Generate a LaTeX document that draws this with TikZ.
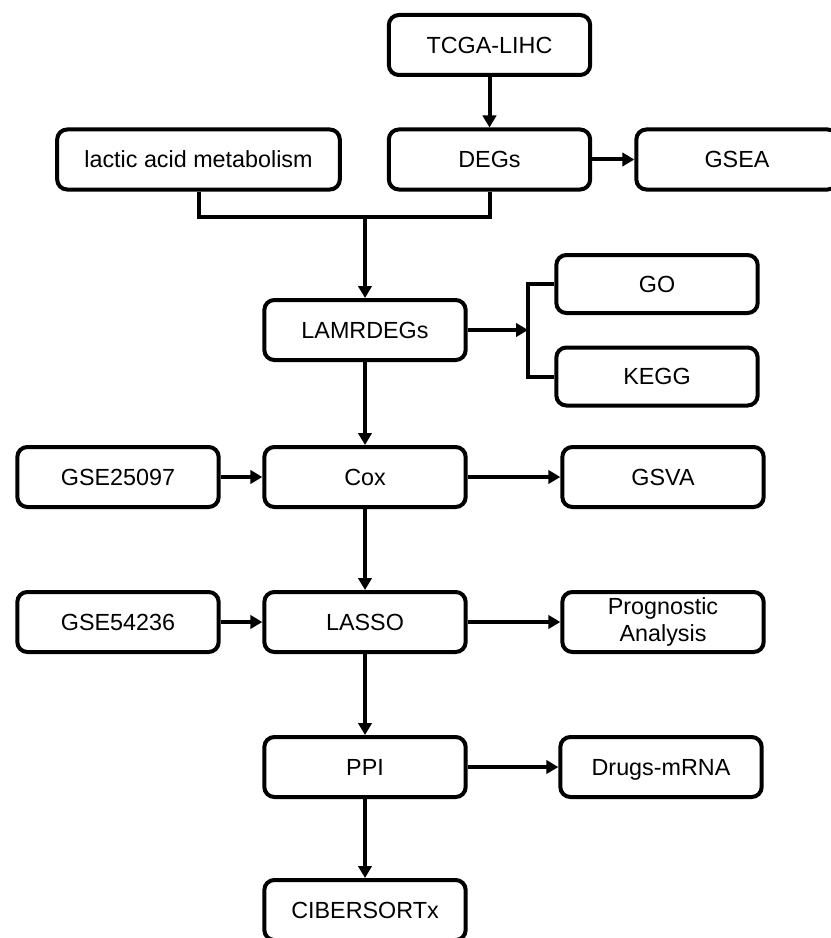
\documentclass[tikz,border=0pt]{standalone}
\usepackage{fontspec}
\setmainfont{Liberation Sans}
\usetikzlibrary{arrows.meta}

\begin{document}
\begin{tikzpicture}[x=0.75pt,y=0.75pt,yscale=-1,xscale=1,
  box/.style={draw,line width=3pt,rounded corners=7.5pt,minimum width=151pt,minimum height=45pt,inner sep=0pt,align=center,text height=12.5pt,text depth=0pt,font=\fontsize{17.5}{20}\selectfont},
  flow/.style={line width=3pt,-{Triangle[length=9pt,width=10pt]}},
  link/.style={line width=3pt}]
%set diagram frame
\clip (0,0) rectangle (831,938);

%Shape: Rounded Rect
\node [box] (tcga) at (489.5,45) {TCGA-LIHC};
\node [box] (degs) at (489.5,159.5) {DEGs};
\node [box] (gsea) at (737,159.5) {GSEA};
\node [box,minimum width=212pt] (lactic) at (198.5,159.5) {lactic acid metabolism};
\node [box] (lamr) at (365,330) {LAMRDEGs};
\node [box,minimum height=43.5pt] (go) at (657,284) {GO};
\node [box,minimum height=43.5pt] (kegg) at (657,376.5) {KEGG};
\node [box] (gse1) at (118,477) {GSE25097};
\node [box] (cox) at (365,477) {Cox};
\node [box] (gsva) at (663,477) {GSVA};
\node [box] (gse2) at (118,622) {GSE54236};
\node [box] (lasso) at (365,622) {LASSO};
\node [box,text height=,text depth=] (prog) at (663,622) {Prognostic\\Analysis};
\node [box] (ppi) at (365,767) {PPI};
\node [box] (drugs) at (661,767) {Drugs-mRNA};
\node [box] (cibersort) at (365,910) {CIBERSORTx};

%Connector points
\coordinate (join) at (365,217);
\coordinate (fork) at (528,330);

%Straight Lines
\draw [flow] (tcga) -- (degs);
\draw [flow] (degs) -- (gsea);
\draw [link] (lactic.south) |- (join) -| (degs.south);
\draw [flow] (join) -- (lamr);
\draw [flow] (lamr) -- (fork);
\draw [link] (go.west) -| (fork) |- (kegg.west);
\draw [flow] (lamr) -- (cox);
\draw [flow] (gse1) -- (cox);
\draw [flow] (cox) -- (gsva);
\draw [flow] (cox) -- (lasso);
\draw [flow] (gse2) -- (lasso);
\draw [flow] (lasso) -- (prog);
\draw [flow] (lasso) -- (ppi);
\draw [flow] (ppi) -- (drugs);
\draw [flow] (ppi) -- (cibersort);

\end{tikzpicture}
\end{document}
